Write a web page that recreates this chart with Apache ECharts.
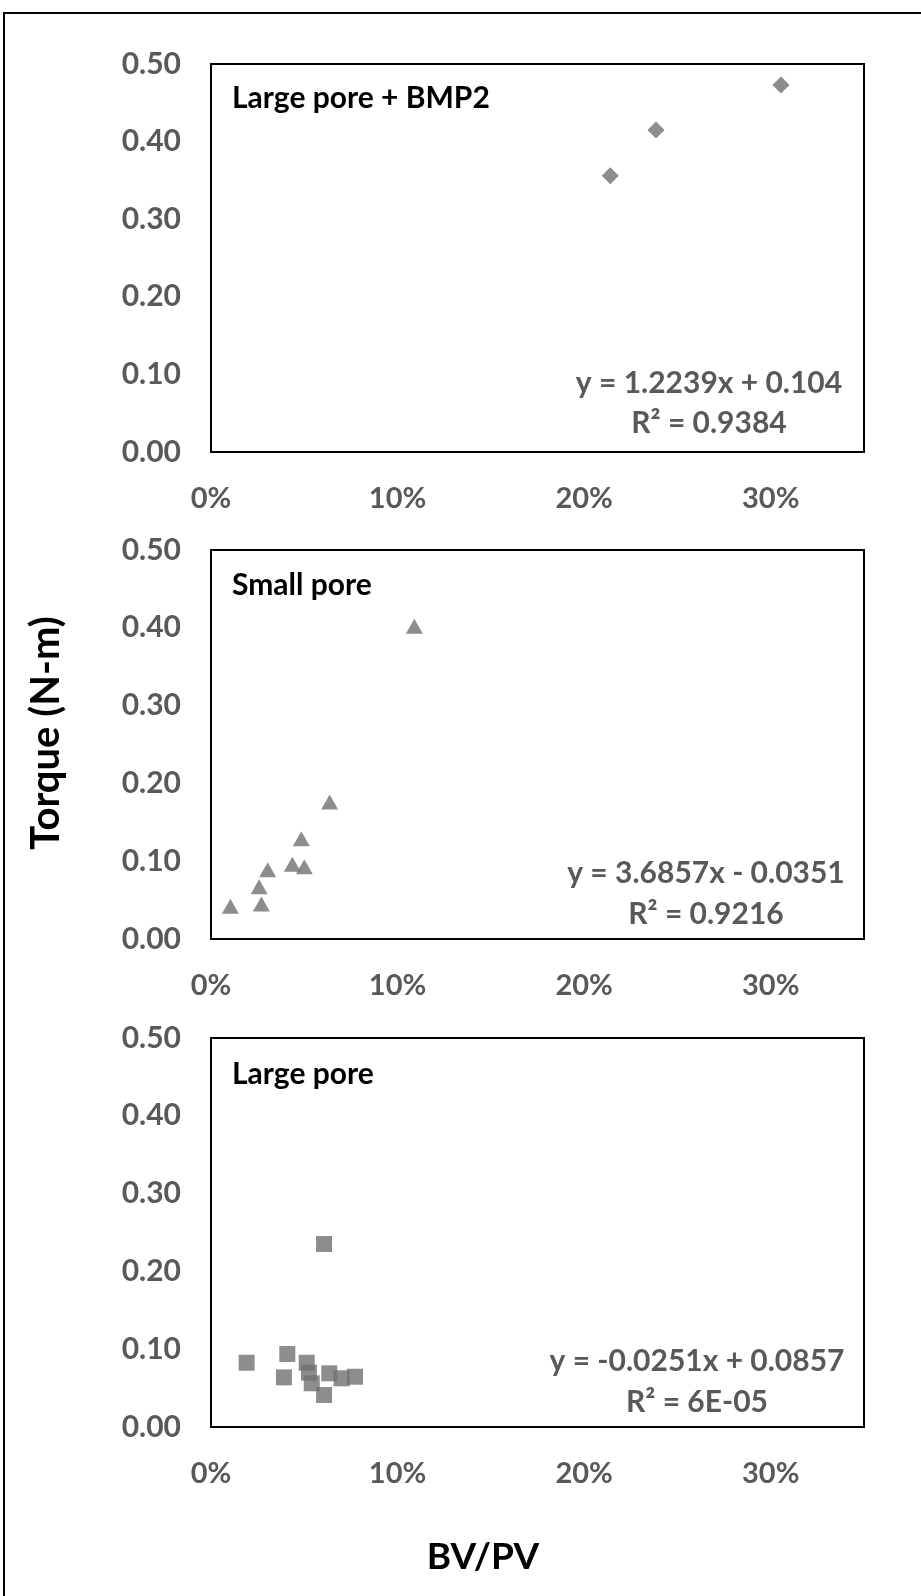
<!DOCTYPE html>
<html><head><meta charset="utf-8">
<script src="https://cdn.jsdelivr.net/npm/echarts@6/dist/echarts.min.js"></script>
<style>html,body{margin:0;padding:0;background:#fff}#c{width:921px;height:1596px}</style>
</head><body><div id="c"></div>
<script>
// ---- data ----
const panelTitles = ['Large pore + BMP2', 'Small pore', 'Large pore'];
const equations = ['y = 1.2239x + 0.104', 'y = 3.6857x - 0.0351', 'y = -0.0251x + 0.0857'];
const rSquared = ['R\u00B2 = 0.9384', 'R\u00B2 = 0.9216', 'R\u00B2 = 6E-05'];
const xAxisTitle = 'BV/PV';
const yAxisTitle = 'Torque (N-m)';

const bmp2X = [0.214, 0.2385, 0.3055];
const bmp2Y = [0.356, 0.415, 0.473];

const smallX = [0.109, 0.0636, 0.0484, 0.0436, 0.0500, 0.0304, 0.0258, 0.0270, 0.0104];
const smallY = [0.402, 0.176, 0.129, 0.096, 0.093, 0.089, 0.067, 0.045, 0.042];

const largeX = [0.0191, 0.0409, 0.0391, 0.0513, 0.0525, 0.0540, 0.0606, 0.0634, 0.0700, 0.0772, 0.0606];
const largeY = [0.0826, 0.0938, 0.0638, 0.0826, 0.0698, 0.0562, 0.0411, 0.0690, 0.0626, 0.0646, 0.2352];

const xMin = 0, xMax = 0.35, xStep = 0.1;
const yMin = 0, yMax = 0.5, yStep = 0.1;

// ---- chart ----
const FONT = 'Lato';
const tickColor = '#595959';
const markerColor = '#707070';
const pair = (xs, ys) => xs.map((x, i) => [x, ys[i]]);

const grids = [
  { left: 211, top: 64, width: 653, height: 388 },
  { left: 211, top: 550, width: 653, height: 389 },
  { left: 211, top: 1038, width: 653, height: 389 }
];

const chart = echarts.init(document.getElementById('c'), null, { renderer: 'canvas' });

const xAxes = grids.map((g, i) => ({
  type: 'value', gridIndex: i, min: xMin, max: xMax, interval: xStep,
  axisLine: { show: false }, axisTick: { show: false }, splitLine: { show: false },
  axisLabel: {
    show: true, margin: 32, color: tickColor, fontFamily: FONT, fontWeight: 'bold', fontSize: 29,
    showMaxLabel: false,
    formatter: v => (Math.abs(v - xMax) < 1e-9 ? '' : Math.round(v * 100) + '%')
  }
}));
const yAxes = grids.map((g, i) => ({
  type: 'value', gridIndex: i, min: yMin, max: yMax, interval: yStep,
  axisLine: { show: false }, axisTick: { show: false }, splitLine: { show: false },
  axisLabel: {
    show: true, margin: 30, color: tickColor, fontFamily: FONT, fontWeight: 'bold', fontSize: 30,
    formatter: v => v.toFixed(2)
  }
}));

const eqPos = [
  { cx: 709, y1: 383, y2: 423 },
  { cx: 706, y1: 873, y2: 914 },
  { cx: 697, y1: 1361, y2: 1402 }
];
const titlePos = [98, 585, 1074];

const graphics = [
  { type: 'rect', shape: { x: 4, y: 13, width: 1000, height: 1700 }, style: { fill: 'none', stroke: '#000', lineWidth: 2 }, silent: true },
  { type: 'text', x: 46, y: 733, rotation: Math.PI / 2,
    style: { text: yAxisTitle, fill: '#000', font: 'bold 40px ' + FONT, textAlign: 'center', textVerticalAlign: 'middle' } },
  { type: 'text', x: 483, y: 1557,
    style: { text: xAxisTitle, fill: '#000', font: 'bold 37px ' + FONT, textAlign: 'center', textVerticalAlign: 'middle' } }
];
panelTitles.forEach((t, i) => {
  graphics.push({ type: 'text', x: 232, y: titlePos[i],
    style: { text: t, fill: '#000', font: 'bold 30px ' + FONT, textAlign: 'left', textVerticalAlign: 'middle' } });
  graphics.push({ type: 'text', x: eqPos[i].cx, y: eqPos[i].y1,
    style: { text: equations[i], fill: tickColor, font: 'bold 30px ' + FONT, textAlign: 'center', textVerticalAlign: 'middle' } });
  graphics.push({ type: 'text', x: eqPos[i].cx, y: eqPos[i].y2,
    style: { text: rSquared[i], fill: tickColor, font: 'bold 30px ' + FONT, textAlign: 'center', textVerticalAlign: 'middle' } });
});

chart.setOption({
  backgroundColor: '#fff',
  animation: false,
  grid: grids.map(g => Object.assign({ show: true, borderColor: '#000', borderWidth: 2, backgroundColor: 'transparent' }, g)),
  xAxis: xAxes,
  yAxis: yAxes,
  series: [
    { type: 'scatter', xAxisIndex: 0, yAxisIndex: 0, symbol: 'diamond', symbolSize: 17,
      itemStyle: { color: markerColor }, data: pair(bmp2X, bmp2Y) },
    { type: 'scatter', xAxisIndex: 1, yAxisIndex: 1, symbol: 'triangle', symbolSize: [17, 15],
      itemStyle: { color: markerColor }, data: pair(smallX, smallY) },
    { type: 'scatter', xAxisIndex: 2, yAxisIndex: 2, symbol: 'rect', symbolSize: 16,
      itemStyle: { color: markerColor }, data: pair(largeX, largeY) }
  ],
  graphic: graphics
});
</script>
</body></html>
